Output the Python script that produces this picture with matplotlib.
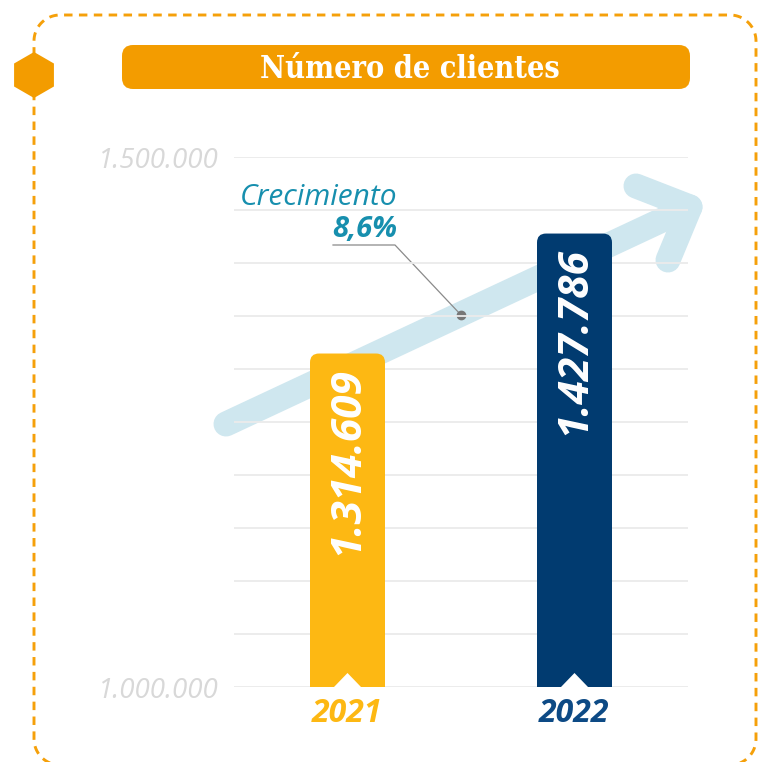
import matplotlib
matplotlib.use("Agg")
import numpy as np
import matplotlib.pyplot as plt
from matplotlib.patches import FancyBboxPatch, Polygon, RegularPolygon
from matplotlib.lines import Line2D

# ---------------- data ----------------
years = ["2021", "2022"]
clientes = [1314609, 1427786]
value_labels = ["1.314.609", "1.427.786"]
growth_title = "Crecimiento"
growth_label = "8,6%"
chart_title = "Número de clientes"
y_ticks = [1000000, 1050000, 1100000, 1150000, 1200000, 1250000,
           1300000, 1350000, 1400000, 1450000, 1500000]
y_tick_labels = ["1.000.000", "", "", "", "", "", "", "", "", "", "1.500.000"]

# ---------------- style ----------------
bar_colors = ["#fdb813", "#013b70"]
year_colors = ["#fdb813", "#0d4a85"]
orange = "#f39c00"
teal = "#178fae"
arrow_col = "#cfe7ef"
FONT = "Open Sans"

W, H = 758, 762
fig = plt.figure(figsize=(W / 100, H / 100), dpi=100)
fig.patch.set_facecolor("white")

# background / decoration axes in pixel units
bg = fig.add_axes([0, 0, 1, 1], zorder=0)
bg.set_xlim(0, W)
bg.set_ylim(H, 0)
bg.axis("off")

# dashed rounded frame (built from straight runs and quarter arcs)
def arc(cx, cy, r, a0, a1, n=20):
    t = np.radians(np.linspace(a0, a1, n))
    return list(cx + r * np.cos(t)), list(cy + r * np.sin(t))

L, R, T, B, rad = 34, 756, 15, 765, 26
xs, ys = [], []
for (cx, cy, a0, a1) in [(L + rad, B - rad, 90, 180), (L + rad, T + rad, 180, 270),
                         (R - rad, T + rad, 270, 360), (R - rad, B - rad, 0, 90)]:
    ax_, ay_ = arc(cx, cy, rad, a0, a1)
    xs += ax_
    ys += ay_
bg.add_line(Line2D(xs, ys, color="#f5a00a", lw=2.1, linestyle=(0, (2.9, 2.2)),
                   clip_on=False, zorder=1))

# hexagon
bg.add_patch(RegularPolygon((34, 75), numVertices=6, radius=23, orientation=0,
                            fc=orange, ec="none", zorder=3))
# title box
bg.add_patch(FancyBboxPatch((122, 45), 568, 44, boxstyle="round,pad=0,rounding_size=11",
                            fc=orange, ec="none", zorder=3))
bg.text(410, 69, chart_title, ha="center", va="center", color="white",
        fontsize=22, fontweight="bold", family="DejaVu Serif", fontstretch="condensed",
        zorder=4)

# growth arrow
lw_arrow = 25 * 0.72
bg.add_line(Line2D([226, 690], [424, 207], color=arrow_col, lw=lw_arrow,
                   solid_capstyle="round", zorder=1))
bg.add_line(Line2D([636, 690, 668], [186, 207, 260], color=arrow_col, lw=lw_arrow,
                   solid_capstyle="round", solid_joinstyle="round", zorder=1))

# leader + growth text
bg.add_line(Line2D([333, 395, 461], [245, 245, 315], color="#8a8a8a", lw=0.9, zorder=2))
bg.plot([461], [315], "o", color="#777777", ms=6, zorder=2)
bg.text(397, 205, growth_title, ha="right", va="baseline", color=teal,
        fontsize=21.5, fontstyle="italic", family=FONT)
bg.text(397, 237, growth_label, ha="right", va="baseline", color=teal,
        fontsize=21, fontstyle="italic", fontweight="bold", family=FONT)

# ---------------- main chart axes ----------------
ax = fig.add_axes([234 / W, 1 - 687 / H, 454 / W, 530 / H], zorder=1)
ax.patch.set_alpha(0)
ax.set_xlim(-0.5, 1.5)
ax.set_ylim(1000000, 1500000)
for s in ax.spines.values():
    s.set_visible(False)
ax.set_xticks([])
ax.set_yticks(y_ticks, y_tick_labels)
ax.tick_params(axis="y", length=0, pad=11, labelsize=20, labelcolor="#d8d8d8")
for t in ax.get_yticklabels():
    t.set_fontstyle("italic")
    t.set_family(FONT)
ax.yaxis.grid(True, color="#ebebeb", lw=1.3)
ax.set_axisbelow(True)

# unit conversions (data units per pixel)
ypp = (1500000 - 1000000) / 530
xpp = 2.0 / 454
bw = 75 * xpp
aspect = ypp / xpp
base = 1000000

for i, (v, lbl, yr) in enumerate(zip(clientes, value_labels, years)):
    y0 = base - 30 * ypp
    bar = FancyBboxPatch((i - bw / 2, y0), bw, v - y0,
                         boxstyle=f"round,pad=0,rounding_size={9 * xpp}",
                         mutation_aspect=aspect, fc=bar_colors[i], ec="none", zorder=3)
    ax.add_patch(bar)
    bar.set_clip_path(ax.patch)
    hw = 13.5 * xpp
    ax.add_patch(Polygon([(i - hw, base), (i, base + 14 * ypp), (i + hw, base)],
                         closed=True, fc="white", ec="none", zorder=4))
    ax.annotate(lbl, xy=(i, v), xytext=(0, -10), textcoords="offset points",
                rotation=90, ha="center", va="top", color="white", fontsize=30.5,
                fontweight="bold", fontstyle="italic", family=FONT, zorder=5)
    ax.annotate(yr, xy=(i, base), xytext=(0, -7), textcoords="offset points",
                ha="center", va="top", color=year_colors[i], fontsize=23,
                fontweight="bold", fontstyle="italic", family=FONT,
                annotation_clip=False)

fig.savefig("out.png", dpi=100, facecolor="white")
